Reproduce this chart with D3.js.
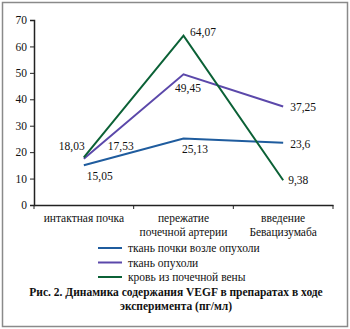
<!DOCTYPE html>
<html><head><meta charset="utf-8">
<script src="https://cdn.jsdelivr.net/npm/d3@7"></script>
<style>body{margin:0;background:#fff}svg{display:block}text{font-family:"Liberation Serif","Times New Roman",serif;fill:#111}</style>
</head><body><svg id="c" width="350" height="329"></svg>
<script>
const categories = [["интактная почка"], ["пережатие", "почечной артерии"], ["введение", "Бевацизумаба"]];
const seriesNames = ["ткань почки возле опухоли", "ткань опухоли", "кровь из почечной вены"];
const seriesBlue = [15.05, 25.13, 23.6];
const seriesPurple = [17.53, 49.45, 37.25];
const seriesGreen = [18.03, 64.07, 9.38];
const labelsBlue = ["15,05", "25,13", "23,6"];
const labelsPurple = ["17,53", "49,45", "37,25"];
const labelsGreen = ["18,03", "64,07", "9,38"];
const yTicks = [0, 10, 20, 30, 40, 50, 60, 70];
const captionLines = ["Рис. 2. Динамика содержания VEGF в препаратах в ходе", "эксперимента (пг/мл)"];

const colors = ["#1f5c9e", "#5b48aa", "#0b6136"];
const svg = d3.select("#c");
svg.append("rect").attr("x", 2.5).attr("y", 2.5).attr("width", 345).attr("height", 324)
  .attr("fill", "#fff").attr("stroke", "#8a8a8a").attr("stroke-width", 1.5);

const x = d3.scaleBand().domain(d3.range(categories.length)).range([34, 333]);
const y = d3.scaleLinear().domain([0, 70]).range([205, 20]);

const yAxis = svg.append("g").attr("transform", "translate(34,0)")
  .call(d3.axisLeft(y).tickValues(yTicks).tickSize(4).tickFormat(d3.format("d")));
yAxis.select(".domain").attr("stroke", "#222").attr("stroke-width", 1.5);
yAxis.selectAll(".tick line").attr("stroke", "#222");
yAxis.selectAll("text").attr("font-size", 11.5).attr("fill", "#111");

const xAxis = svg.append("g").attr("transform", "translate(0,205)")
  .call(d3.axisBottom(x).tickSize(0).tickFormat(""));
xAxis.select(".domain").attr("stroke", "#222").attr("stroke-width", 1.5);
const bounds = [34].concat(d3.range(categories.length).map(i => x(i) + x.bandwidth()));
svg.append("g").selectAll("line").data(bounds).join("line")
  .attr("x1", d => d).attr("x2", d => d).attr("y1", 205).attr("y2", 209)
  .attr("stroke", "#222");

const catG = svg.append("g");
categories.forEach((lines, i) => {
  lines.forEach((t, j) => {
    catG.append("text").attr("x", x(i) + x.bandwidth() / 2).attr("y", 222 + j * 14)
      .attr("text-anchor", "middle").attr("font-size", 11.5).text(t);
  });
});

const cx = i => x(i) + x.bandwidth() / 2;
const line = d3.line().x((d, i) => cx(i)).y(d => y(d));
const allSeries = [seriesBlue, seriesPurple, seriesGreen];
allSeries.forEach((s, k) => {
  svg.append("path").datum(s).attr("d", line).attr("fill", "none")
    .attr("stroke", colors[k]).attr("stroke-width", 2);
});

const labelOffsets = [
  [[3, 15], [-1.5, 14.5], [7, 5.5]],
  [[24, -8.6], [-8.5, 18], [7, 4]],
  [[-25, -7], [6.5, 0], [5, 4]]
];
const allLabels = [labelsBlue, labelsPurple, labelsGreen];
allSeries.forEach((s, k) => {
  s.forEach((v, i) => {
    const o = labelOffsets[k][i];
    svg.append("text").attr("x", cx(i) + o[0]).attr("y", y(v) + o[1])
      .attr("font-size", 11.5).text(allLabels[k][i]);
  });
});

const leg = svg.append("g");
seriesNames.forEach((n, k) => {
  const ly = 248 + k * 14.5;
  leg.append("line").attr("x1", 98).attr("x2", 122).attr("y1", ly).attr("y2", ly)
    .attr("stroke", colors[k]).attr("stroke-width", 2);
  leg.append("text").attr("x", 128).attr("y", ly + 4).attr("font-size", 11.5).text(n);
});

captionLines.forEach((t, j) => {
  svg.append("text").attr("x", 176).attr("y", 296 + j * 13.5).attr("text-anchor", "middle")
    .attr("font-size", 11.5).attr("font-weight", "bold").text(t);
});
</script></body></html>
